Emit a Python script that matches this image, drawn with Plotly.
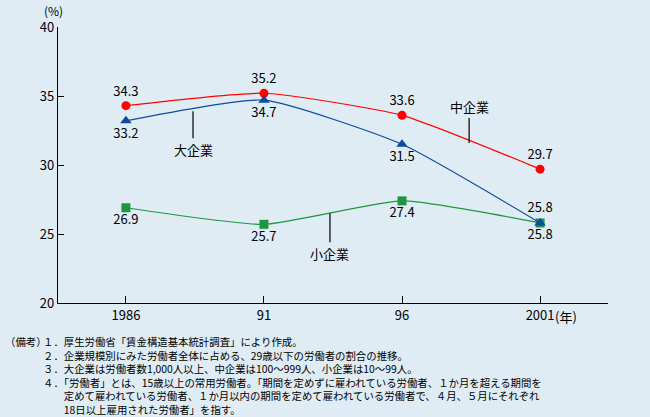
import plotly.graph_objects as go

years = [1986, 1991, 1996, 2001]
tick_labels = ["1986", "91", "96", "2001"]
large = [33.2, 34.7, 31.5, 25.8]
medium = [34.3, 35.2, 33.6, 29.7]
small = [26.9, 25.7, 27.4, 25.8]

notes = [
    "１．厚生労働省「賃金構造基本統計調査」により作成。",
    "２．企業規模別にみた労働者全体に占める、29歳以下の労働者の割合の推移。",
    "３．大企業は労働者数1,000人以上、中企業は100～999人、小企業は10～99人。",
    "４．「労働者」とは、15歳以上の常用労働者。「期間を定めずに雇われている労働者、１か月を超える期間を",
    "　　定めて雇われている労働者、１か月以内の期間を定めて雇われている労働者で、４月、５月にそれぞれ",
    "　　18日以上雇用された労働者」を指す。",
]

FONT = "Noto Sans CJK JP"
BG = "#DFECF4"
RED = "#FF0000"
BLUE = "#0E4A9E"
GREEN = "#1E9640"

# plot area in pixels
L, R, T, B = 58, 608, 27, 303
W, H = 650, 417

def px(x):
    return (x - L) / (R - L)

def py(y):
    return (B - y) / (B - T)

SM = 0.5
fig = go.Figure()

fig.add_trace(go.Scatter(
    x=years, y=medium, mode="lines+markers+text",
    line=dict(color=RED, width=1.2, shape="spline", smoothing=SM),
    marker=dict(symbol="circle", size=9, color=RED),
    text=[f"{v:.1f}" for v in medium],
    textposition=["top center"] * 4,
    textfont=dict(family=FONT, size=13, color="black"),
    cliponaxis=False, showlegend=False, hoverinfo="skip",
))
fig.add_trace(go.Scatter(
    x=years, y=small, mode="lines+markers+text",
    line=dict(color=GREEN, width=1.2, shape="spline", smoothing=SM),
    marker=dict(symbol="square", size=9, color=GREEN),
    text=[f"{v:.1f}" for v in small],
    textposition=["bottom center"] * 4,
    textfont=dict(family=FONT, size=13, color="black"),
    cliponaxis=False, showlegend=False, hoverinfo="skip",
))
fig.add_trace(go.Scatter(
    x=years, y=large, mode="lines+markers+text",
    line=dict(color=BLUE, width=1.2, shape="spline", smoothing=SM),
    marker=dict(symbol="triangle-up", size=10, color=BLUE),
    text=[f"{v:.1f}" for v in large],
    textposition=["bottom center", "bottom center", "bottom center", "top center"],
    textfont=dict(family=FONT, size=13, color="black"),
    cliponaxis=False, showlegend=False, hoverinfo="skip",
))

annos = []
# series labels with leader lines
for label, xv, yv, ay in [("大企業", 1988.43, 33.9, 38),
                          ("中企業", 1998.43, 31.6, -36),
                          ("小企業", 1993.39, 26.5, 40)]:
    annos.append(dict(x=xv, y=yv, xref="x", yref="y", text=label,
                      showarrow=True, arrowhead=0, arrowwidth=1.2, arrowcolor="black",
                      ax=0, ay=ay, standoff=0,
                      font=dict(family=FONT, size=13, color="black")))

annos.append(dict(x=px(53), y=py(11), xref="paper", yref="paper", text="(%)",
                  showarrow=False, font=dict(family=FONT, size=12, color="black"),
                  xanchor="center", yanchor="middle", borderpad=0))
annos.append(dict(x=px(554), y=py(316), xref="paper", yref="paper", text="(年)",
                  showarrow=False, font=dict(family=FONT, size=13, color="black"),
                  xanchor="left", yanchor="middle", borderpad=0))

annos.append(dict(x=px(4), y=py(333), xref="paper", yref="paper", text="（備考）",
                  showarrow=False, font=dict(family=FONT, size=10.4, color="black"),
                  xanchor="left", yanchor="top", borderpad=0))
annos.append(dict(x=px(42), y=py(333), xref="paper", yref="paper", text="<br>".join(notes),
                  showarrow=False, font=dict(family=FONT, size=10.4, color="black"),
                  xanchor="left", yanchor="top", align="left", borderpad=0))

fig.update_layout(
    width=W, height=H,
    margin=dict(l=L, r=W - R, t=T, b=H - B, pad=0),
    paper_bgcolor=BG, plot_bgcolor=BG,
    font=dict(family=FONT, size=13, color="black"),
    annotations=annos,
    hovermode=False,
    xaxis=dict(range=[1983.54, 2003.46], tickvals=years, ticktext=tick_labels,
               ticks="inside", ticklen=7, tickcolor="black", showgrid=False,
               zeroline=False, showline=True, linecolor="black", linewidth=1.2,
               tickfont=dict(family=FONT, size=13, color="black")),
    yaxis=dict(range=[20, 40], tickvals=[20, 25, 30, 35, 40],
               ticks="inside", ticklen=6, tickcolor="black", showgrid=False,
               zeroline=False, showline=True, linecolor="black", linewidth=1.2,
               tickfont=dict(family=FONT, size=13, color="black")),
)

fig.write_html("out.html", config={"displayModeBar": False, "staticPlot": True},
               post_script="document.body.style.margin='0';document.body.style.background='" + BG + "';")
